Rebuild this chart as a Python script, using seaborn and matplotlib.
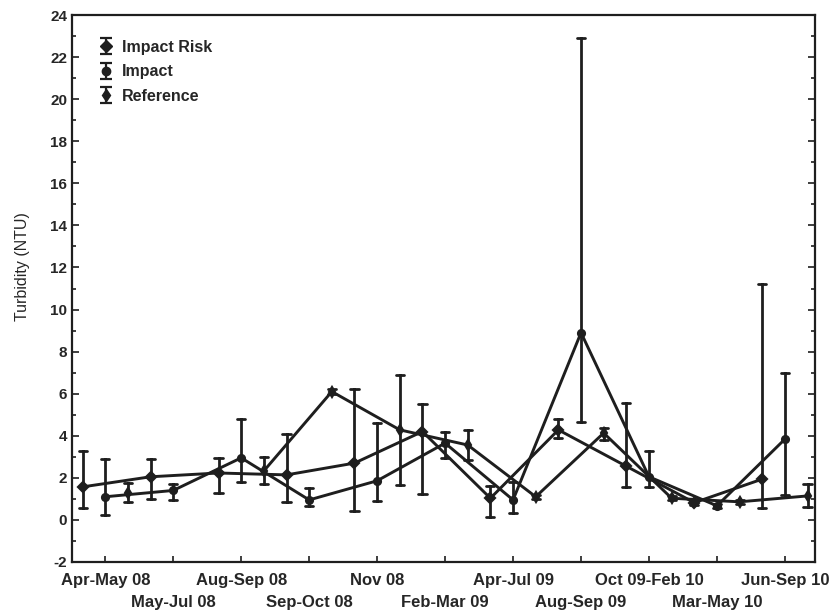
import numpy as np
import pandas as pd
import matplotlib
matplotlib.use("Agg")
import matplotlib.pyplot as plt
import seaborn as sns
from matplotlib.lines import Line2D
from matplotlib.collections import LineCollection
from matplotlib.container import ErrorbarContainer
from matplotlib.ticker import MultipleLocator

# Sampling periods along the x axis
periods = ["Apr-May 08", "May-Jul 08", "Aug-Sep 08", "Sep-Oct 08", "Nov 08",
           "Feb-Mar 09", "Apr-Jul 09", "Aug-Sep 09", "Oct 09-Feb 10",
           "Mar-May 10", "Jun-Sep 10"]
groups = ["Impact Risk", "Impact", "Reference"]

# Turbidity (NTU): central value and lower / upper error limits per period
risk_mid  = [1.57, 2.05, 2.23, 2.14, 2.70, 4.20, 1.03, 4.28, 2.55, 0.82, 1.94]
risk_low  = [0.57, 1.00, 1.28, 0.85, 0.43, 1.24, 0.15, 3.90, 1.55, 0.72, 0.57]
risk_high = [3.28, 2.90, 2.95, 4.10, 6.20, 5.50, 1.60, 4.80, 5.55, 0.92, 11.2]

impact_mid  = [1.10, 1.40, 2.95, 0.95, 1.86, 3.65, 0.95, 8.90, 2.05, 0.67, 3.84]
impact_low  = [0.24, 0.95, 1.80, 0.67, 0.90, 2.95, 0.33, 4.65, 1.57, 0.57, 1.19]
impact_high = [2.90, 1.70, 4.80, 1.52, 4.60, 4.20, 1.80, 22.9, 3.28, 0.77, 7.00]

ref_mid  = [1.30, np.nan, 2.33, 6.10, 4.28, 3.56, 1.10, 4.13, 1.03, 0.86, 1.14]
ref_low  = [0.86, np.nan, 1.70, 6.00, 1.66, 2.85, 1.00, 3.80, 0.93, 0.76, 0.62]
ref_high = [1.76, np.nan, 3.00, 6.20, 6.90, 4.28, 1.20, 4.37, 1.13, 0.96, 1.70]

# Long table: each period/group holds (low, mid, high) so that the median is the
# point and the full 0-100 percentile interval spans the error bar.
rows = []
for name, lows, mids, highs in [(groups[0], risk_low, risk_mid, risk_high),
                                (groups[1], impact_low, impact_mid, impact_high),
                                (groups[2], ref_low, ref_mid, ref_high)]:
    for p, lo, m, hi in zip(periods, lows, mids, highs):
        if np.isnan(m):
            continue
        for v in (lo, m, hi):
            rows.append({"period": p, "group": name, "ntu": v})
df = pd.DataFrame(rows)

sns.set_theme(style="ticks")
plt.rcParams["font.family"] = ["Liberation Sans", "DejaVu Sans"]
plt.rcParams["axes.unicode_minus"] = False

ink = "#1e1e1e"
markers = ["D", "o", "d"]

fig = plt.figure(figsize=(8.34, 6.16), dpi=100)
ax = fig.add_axes([0.0863, 0.0877, 0.8907, 0.8879])

sns.pointplot(data=df, x="period", y="ntu", hue="group", order=periods,
              hue_order=groups, estimator="median", errorbar=("pi", 100),
              dodge=2 / 3, markers=markers, palette=[ink] * 3,
              capsize=0.12, err_kws={"linewidth": 2.0},
              linewidth=2.1, markersize=5, legend=False, ax=ax)

ax.set_xlim(-0.49, 10.44)
ax.set_ylim(-2, 24)
ax.yaxis.set_major_locator(MultipleLocator(2))
ax.yaxis.set_minor_locator(MultipleLocator(1))

# Period labels alternate between two rows
ax.set_xticks(range(len(periods)))
ax.set_xticklabels(periods, fontsize=12, fontweight="bold")
for i, tick in enumerate(ax.xaxis.get_major_ticks()):
    tick.set_pad(8 if i % 2 == 0 else 24)
for lab in ax.get_yticklabels():
    lab.set_fontweight("bold")
    lab.set_fontsize(11)

ax.tick_params(axis="both", which="both", direction="in", right=True,
               color=ink, width=1.2)
ax.tick_params(axis="y", which="major", length=5)
ax.tick_params(axis="y", which="minor", length=3)
ax.tick_params(axis="x", which="major", length=4)

for s in ax.spines.values():
    s.set_visible(True)
    s.set_color(ink)
    s.set_linewidth(1.6)

ax.set_xlabel("")
ax.set_ylabel("Turbidity (NTU)", fontsize=11.5)
ax.yaxis.set_label_coords(-0.056, 0.54)


def errbar_handle(marker):
    point = Line2D([], [], color=ink, marker=marker, markersize=6, linestyle="none")
    cap = Line2D([], [], color=ink, marker="_", markersize=8,
                 markeredgewidth=1.6, linestyle="none")
    bars = LineCollection([], colors=ink, linewidths=1.6)
    return ErrorbarContainer((point, (cap, cap), (bars,)),
                             has_xerr=False, has_yerr=True)


handles = [errbar_handle(m) for m in markers]
ax.legend(handles, groups, loc="upper left", bbox_to_anchor=(0.02, 0.975),
          frameon=False, handlelength=1.0, handletextpad=0.5, labelspacing=0.6,
          borderpad=0.2, prop={"weight": "bold", "size": 11.5})

fig.savefig("out.png", dpi=100)
